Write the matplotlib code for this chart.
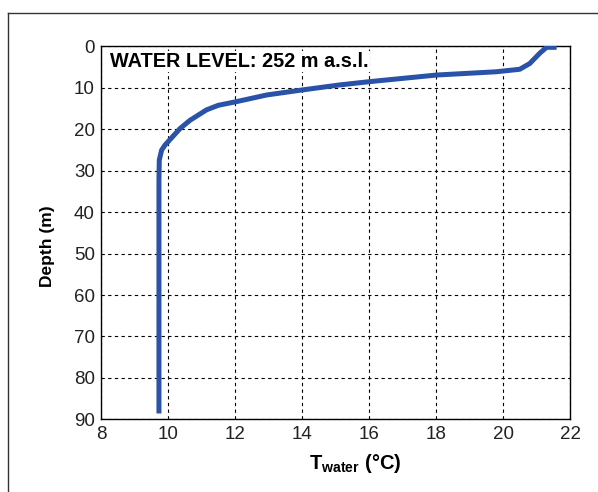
import matplotlib
matplotlib.use("Agg")
import matplotlib.pyplot as plt
from matplotlib.lines import Line2D

plt.rcParams["font.family"] = ["Liberation Sans", "DejaVu Sans"]
plt.rcParams["mathtext.fontset"] = "custom"
plt.rcParams["mathtext.rm"] = "Liberation Sans"
plt.rcParams["mathtext.bf"] = "Liberation Sans:bold"

# temperature profile (deg C vs depth in m)
temp = [21.6, 21.3, 21.1, 20.8, 20.5, 19.8, 18.0, 16.0, 15.1, 14.0, 12.95,
        12.05, 11.5, 11.15, 10.66, 10.36, 9.91, 9.81, 9.74, 9.73, 9.73]
depth = [0.2, 0.2, 1.6, 4.1, 5.5, 6.1, 6.9, 8.5, 9.3, 10.5, 11.7,
         13.3, 14.2, 15.3, 17.8, 19.8, 23.8, 25.0, 27.4, 32.0, 88.6]

xticks = [8, 10, 12, 14, 16, 18, 20, 22]
yticks = [0, 10, 20, 30, 40, 50, 60, 70, 80, 90]

fig = plt.figure(figsize=(5.98, 4.92), dpi=100)
ax = fig.add_axes([0.1689, 0.1478, 0.7843, 0.7577])

ax.plot(temp, depth, "-", color="#2a52a8", linewidth=3.6,
        solid_capstyle="butt", solid_joinstyle="round", zorder=3)

ax.set_xlim(8, 22)
ax.set_ylim(90, 0)
ax.set_xticks(xticks)
ax.set_yticks(yticks)
ax.grid(True, color="black", linestyle=(0, (3, 3)), linewidth=0.8)
ax.tick_params(direction="in", length=0, labelsize=13.5, colors="#222222")
ax.tick_params(axis="y", pad=4.5)
ax.tick_params(axis="x", pad=5)
for s in ax.spines.values():
    s.set_linewidth(1.0)

ax.set_xlabel(r"$\mathbf{T_{water}}$ (°C)", fontsize=14.5, fontweight="bold",
              va="top")
ax.xaxis.set_label_coords(0.5416, -0.087)
ax.set_ylabel("Depth (m)", fontsize=12.5, fontweight="bold")
ax.yaxis.set_label_coords(-0.098, 0.464)

ax.text(0.02, 0.985, "WATER LEVEL: 252 m a.s.l.", transform=ax.transAxes,
        ha="left", va="top", fontsize=14.3, fontweight="bold",
        bbox=dict(facecolor="white", edgecolor="none", pad=1.0), zorder=4)

# outer frame, only top and left visible (cropped figure)
ytop = 1 - 12.7 / 492
xleft = 7.5 / 598
fig.add_artist(Line2D([xleft, 1], [ytop, ytop], color="#333333", linewidth=1.0,
                      transform=fig.transFigure))
fig.add_artist(Line2D([xleft, xleft], [0, ytop], color="#333333", linewidth=1.0,
                      transform=fig.transFigure))

fig.savefig("out.png", dpi=100)
